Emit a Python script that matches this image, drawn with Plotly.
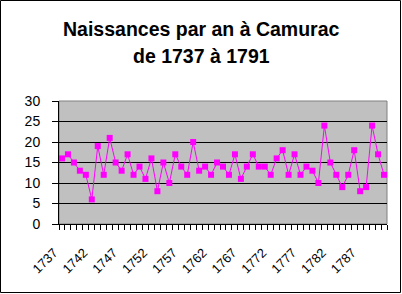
import plotly.graph_objects as go

years = list(range(1737, 1792))
births = [16, 17, 15, 13, 12, 6, 19, 12, 21, 15, 13, 17, 12, 14,
          11, 16, 8, 15, 10, 17, 14, 12, 20, 13, 14, 12, 15, 14, 12,
          17, 11, 14, 17, 14, 14, 12, 16, 18, 12, 17, 12, 14, 13, 10,
          24, 15, 12, 9, 12, 18, 8, 9, 24, 17, 12]
tick_years = list(range(1737, 1792, 5))
y_ticks = [0, 5, 10, 15, 20, 25, 30]

L, R, T, B = 59, 15, 101, 70
W, H = 402, 294
pw, ph = W - L - R, H - T - B

def px(x):
    return (x - L) / pw

def py(y):
    return (H - B - y) / ph

fig = go.Figure()
fig.add_trace(go.Scatter(
    x=years, y=births, mode="lines+markers",
    line=dict(color="#FF00FF", width=1),
    marker=dict(symbol="square", size=6, color="#FF00FF"),
    hoverinfo="skip",
))

font_family = "Liberation Sans, Arial, sans-serif"

fig.update_layout(
    width=W, height=H,
    margin=dict(l=L, r=R, t=T, b=B, pad=0),
    paper_bgcolor="white", plot_bgcolor="#C0C0C0",
    showlegend=False,
    font=dict(family=font_family, color="black", size=13),
    xaxis=dict(
        range=[1736.5, 1791.5], tickvals=tick_years,
        ticktext=[str(v) for v in tick_years],
        tickangle=-45, ticks="", showgrid=False, zeroline=False,
        showline=True, linecolor="black", linewidth=1,
        tickfont=dict(size=13, family=font_family),
        ticklabelstandoff=15, ticklabelshift=-8,
        minor=dict(tickvals=[1736.5 + i for i in range(56)], ticks="outside",
                   ticklen=5, tickcolor="black", tickwidth=1, showgrid=False),
        fixedrange=True,
    ),
    yaxis=dict(
        range=[0, 30], tickvals=y_ticks, ticks="outside", ticklen=6,
        tickcolor="black", showgrid=True, gridcolor="black", gridwidth=1,
        zeroline=False, showline=True, linecolor="black", linewidth=1,
        tickfont=dict(size=14, family=font_family), ticklabelstandoff=9,
        fixedrange=True,
    ),
    shapes=[
        dict(type="rect", xref="paper", yref="paper", x0=0, x1=1, y0=0, y1=1,
             line=dict(color="#808080", width=1), layer="below"),
        dict(type="rect", xref="paper", yref="paper",
             x0=px(0.5), x1=px(400.5), y0=py(292.5), y1=py(0.5),
             line=dict(color="black", width=1)),
    ],
    annotations=[
        dict(text="<b>Naissances par an à Camurac</b>", xref="paper", yref="paper",
             x=px(201.5), y=py(28.5), xanchor="center", yanchor="middle",
             showarrow=False, font=dict(size=19.5, family=font_family)),
        dict(text="<b>de 1737 à 1791</b>", xref="paper", yref="paper",
             x=px(201.5), y=py(56.2), xanchor="center", yanchor="middle",
             showarrow=False, font=dict(size=19.5, family=font_family)),
    ],
)

fig.write_html("out.html", config={"displayModeBar": False})
